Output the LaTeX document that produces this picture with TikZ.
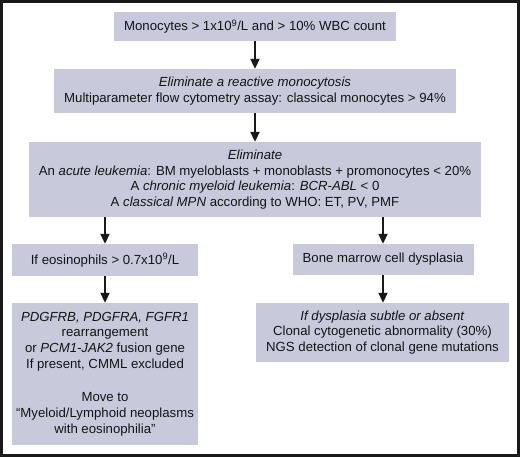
\documentclass[tikz,border=0pt]{standalone}
\usepackage{fontspec}
\setmainfont{Liberation Sans}
\usetikzlibrary{arrows.meta}
\definecolor{boxfill}{RGB}{200,202,220}
\definecolor{txt}{RGB}{20,20,20}
\tikzset{
  box/.style={fill=boxfill, draw=none, align=center, inner sep=0pt, text=txt,
    font=\fontsize{13.2}{15.7}\selectfont},
  conn/.style={line width=2pt, -{Triangle[width=9pt,length=10pt]}, draw=black!90}
}
\begin{document}
\begin{tikzpicture}[x=1pt,y=-1pt]
\useasboundingbox (0,0) rectangle (520,457);
\draw[line width=2.6pt, draw=black!90] (1.3,1.3) rectangle (518.7,455.7);
\node[box, minimum width=282pt, minimum height=29pt] (b1) at (255,26.5)
  {Monocytes > 1x10\textsuperscript{9}/L and > 10\% WBC count};
\node[box, minimum width=402pt, minimum height=44pt] (b2) at (255,91)
  {\textit{Eliminate a reactive monocytosis}\\
   Multiparameter flow cytometry assay: classical monocytes > 94\%};
\node[box, minimum width=452pt, minimum height=75pt] (b3) at (255,179.5)
  {\textit{Eliminate}\\
   An \textit{acute leukemia}: BM myeloblasts + monoblasts + promonocytes < 20\%\\
   A \textit{chronic myeloid leukemia}: \textit{BCR-ABL} < 0\\
   A \textit{classical MPN} according to WHO: ET, PV, PMF};
\node[box, minimum width=186pt, minimum height=32pt] (b4) at (105,260)
  {If eosinophils > 0.7x10\textsuperscript{9}/L};
\node[box, minimum width=181pt, minimum height=31pt] (b5) at (383,259.5)
  {Bone marrow cell dysplasia};
\node[box, minimum width=186pt, minimum height=142pt] (b6) at (105,374)
  {\textit{PDGFRB, PDGFRA, FGFR1}\\
   rearrangement\\
   or \textit{PCM1-JAK2} fusion gene\\
   If present, CMML excluded\\[18pt]
   Move to\\
   “Myeloid/Lymphoid neoplasms\\
   with eosinophilia”};
\node[box, minimum width=253pt, minimum height=59pt] (b7) at (382.5,332.5)
  {\textit{If dysplasia subtle or absent}\\
   Clonal cytogenetic abnormality (30\%)\\
   NGS detection of clonal gene mutations};
\draw[conn] (b1.south) -- (b2.north);
\draw[conn] (b2.south) -- (b3.north);
\draw[conn] (b3.south -| b4.north) -- (b4.north);
\draw[conn] (b3.south -| b5.north) -- (b5.north);
\draw[conn] (b4.south) -- (b6.north);
\draw[conn] (b5.south) -- (b5.south |- b7.north);
\end{tikzpicture}
\end{document}
